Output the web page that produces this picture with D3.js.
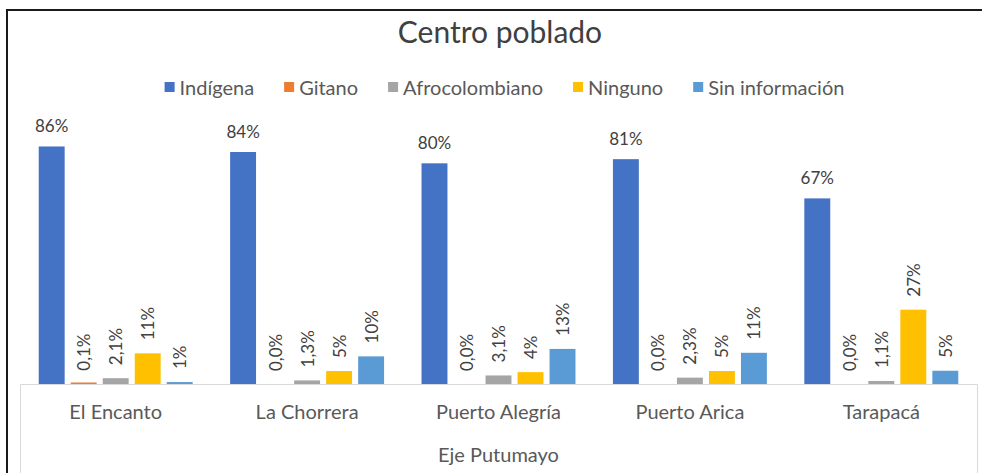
<!DOCTYPE html>
<html>
<head>
<meta charset="utf-8">
<script src="https://cdn.jsdelivr.net/npm/d3@7"></script>
<style>
  body { margin: 0; background: #fff; }
  svg { display: block; font-family: Lato, "Open Sans", sans-serif; }
</style>
</head>
<body>
<div id="chart"></div>
<script>
const categories = ["El Encanto", "La Chorrera", "Puerto Alegría", "Puerto Arica", "Tarapacá"];
const seriesNames = ["Indígena", "Gitano", "Afrocolombiano", "Ninguno", "Sin información"];
const indigena = [0.860, 0.840, 0.799, 0.814, 0.672];
const gitano   = [0.001, 0.000, 0.000, 0.000, 0.000];
const afro     = [0.021, 0.013, 0.031, 0.023, 0.011];
const ninguno  = [0.111, 0.047, 0.043, 0.047, 0.269];
const sinInfo  = [0.007, 0.100, 0.127, 0.113, 0.048];
const labelDecimals = [0, 1, 1, 0, 0];
const axisTitle = "Eje Putumayo";
const chartTitle = "Centro poblado";

(() => {
    const width = 982, height = 473;
    const plot = { left: 20, right: 977, top: 107.8, bottom: 384 };
    const colors = ["#4472C4", "#ED7D31", "#A5A5A5", "#FFC000", "#5B9BD5"];
    const values = [indigena, gitano, afro, ninguno, sinInfo];

    const rows = [];
    categories.forEach((c, i) => {
        seriesNames.forEach((s, j) => {
            rows.push({ cat: c, series: s, idx: j, value: values[j][i] });
        });
    });

    const x0 = d3.scaleBand().domain(categories).range([plot.left, plot.right]);
    const x1 = d3.scaleBand().domain(seriesNames).range([0, x0.bandwidth()])
        .paddingInner(0.19).paddingOuter(0.585);
    const y = d3.scaleLinear().domain([0, 1]).range([plot.bottom, plot.top]);
    const color = d3.scaleOrdinal(seriesNames, colors);
    const fmt = (v, d) => (v * 100).toFixed(d).replace(".", ",") + "%";

    const svg = d3.select("#chart").append("svg")
        .attr("width", width).attr("height", height);

    // frame (cropped screenshot border)
    svg.append("path")
        .attr("d", `M7,${height} V10 H${width}`)
        .attr("fill", "none").attr("stroke", "#1a1a1a").attr("stroke-width", 2);

    svg.append("text")
        .attr("x", 500).attr("y", 43)
        .attr("text-anchor", "middle")
        .style("font-size", "30px").style("fill", "#404040")
        .text(chartTitle);

    // legend
    const gap = 30;
    const legend = svg.append("g").attr("transform", "translate(0,95)");
    const items = legend.selectAll("g").data(seriesNames).enter().append("g");
    items.append("rect")
        .attr("y", -13).attr("width", 10).attr("height", 10)
        .attr("fill", d => color(d));
    items.append("text")
        .attr("x", 15)
        .style("font-size", "20px").style("fill", "#595959")
        .text(d => d);
    let cursor = 0;
    const offsets = [];
    items.each(function () {
        offsets.push(cursor);
        cursor += 15 + d3.select(this).select("text").node().getComputedTextLength() + gap;
    });
    cursor -= gap;
    const start = 504.5 - cursor / 2;
    items.attr("transform", (d, i) => `translate(${start + offsets[i]},0)`);

    // bars (tiny non-zero values still show a hairline, as in the original)
    svg.append("g").selectAll("rect").data(rows).enter().append("rect")
        .attr("x", d => x0(d.cat) + x1(d.series))
        .attr("width", x1.bandwidth())
        .attr("height", d => d.value > 0 ? Math.max(1.5, y(0) - y(d.value)) : 0)
        .attr("y", d => y(0) - (d.value > 0 ? Math.max(1.5, y(0) - y(d.value)) : 0))
        .attr("fill", d => color(d.series));

    // axis
    const axis = svg.append("g")
        .attr("transform", `translate(0,${plot.bottom})`)
        .call(d3.axisBottom(x0).tickSizeInner(0).tickSizeOuter(height - plot.bottom).tickPadding(21));
    axis.select(".domain").attr("stroke", "#D9D9D9");
    axis.selectAll("text")
        .style("font-size", "20px").style("fill", "#595959")
        .style("font-family", "Lato, 'Open Sans', sans-serif");

    svg.append("text")
        .attr("x", (plot.left + plot.right) / 2).attr("y", 462)
        .attr("text-anchor", "middle")
        .style("font-size", "20px").style("fill", "#595959")
        .text(axisTitle);

    // data labels
    const labels = svg.append("g").style("fill", "#404040").style("font-size", "17px");
    labels.selectAll("text.h").data(rows.filter(d => d.idx === 0)).enter().append("text")
        .attr("class", "h")
        .attr("x", d => x0(d.cat) + x1(d.series) + x1.bandwidth() / 2)
        .attr("y", d => y(d.value) - 14)
        .attr("text-anchor", "middle")
        .text(d => fmt(d.value, labelDecimals[d.idx]));
    labels.selectAll("text.v").data(rows.filter(d => d.idx > 0)).enter().append("text")
        .attr("class", "v")
        .attr("transform", d => `translate(${x0(d.cat) + x1(d.series) + x1.bandwidth() / 2},${y(d.value) - 13}) rotate(-90)`)
        .attr("dy", "0.38em")
        .text(d => fmt(d.value, labelDecimals[d.idx]));
})();
</script>
</body>
</html>
